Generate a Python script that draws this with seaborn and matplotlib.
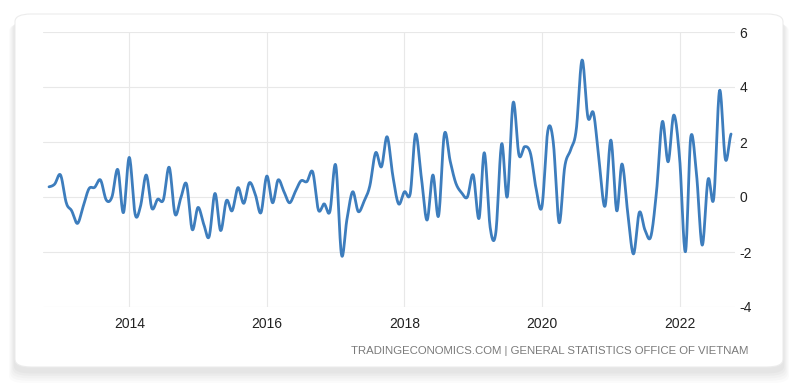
import numpy as np
import pandas as pd
import matplotlib
matplotlib.use("Agg")
import matplotlib.pyplot as plt
from matplotlib import font_manager
from matplotlib.patches import FancyBboxPatch
import seaborn as sns

# monthly values, Nov 2012 .. Oct 2022
START = "2012-11-01"
values = [
    0.37, 0.47, 0.80, -0.22, -0.50, -0.96, -0.35, 0.30, 0.35, 0.62,
    -0.11, 0.00, 1.00, -0.57, 1.44, -0.62, -0.35, 0.80, -0.41, -0.08,
    -0.10, 1.08, -0.62, -0.05, 0.47, -1.18, -0.38, -1.00, -1.44, 0.13,
    -1.22, -0.13, -0.50, 0.34, -0.23, 0.52, 0.10, -0.57, 0.76, -0.21,
    0.62, 0.20, -0.21, 0.20, 0.59, 0.56, 0.91, -0.47, -0.25, -0.53,
    1.16, -2.10, -0.84, 0.19, -0.53, -0.15, 0.40, 1.61, 1.10, 2.19,
    0.74, -0.25, 0.19, 0.13, 2.29, 0.70, -0.84, 0.80, -0.69, 2.29,
    1.30, 0.50, 0.15, 0.00, 0.80, -0.78, 1.61, -1.10, -1.30, 1.93,
    0.01, 3.43, 1.53, 1.83, 1.59, 0.30, -0.35, 2.40, 2.00, -0.93,
    1.10, 1.71, 2.44, 4.98, 2.90, 3.04, 1.20, -0.33, 2.07, -0.50,
    1.20, -0.60, -2.07, -0.56, -1.20, -1.44, 0.25, 2.74, 1.28, 2.98,
    1.40, -1.99, 2.17, 0.80, -1.75, 0.64, -0.05, 3.87, 1.37, 2.29,
]
year_ticks = [2014, 2016, 2018, 2020, 2022]
y_ticks = [-4, -2, 0, 2, 4, 6]
source_text = "TRADINGECONOMICS.COM | GENERAL STATISTICS OFFICE OF VIETNAM"

LINE_COLOR = "#3d7dbd"
GRID_COLOR = "#e8e8e8"


def pick_font():
    names = {f.name for f in font_manager.fontManager.ttflist}
    for name in ["Liberation Sans Narrow", "Liberation Sans", "DejaVu Sans"]:
        if name in names:
            return name
    return "DejaVu Sans"


def spline(dates, vals, steps=16):
    # Catmull-Rom through the monthly points, just for a smooth look
    t = dates.values.astype("datetime64[s]").astype(float)
    y = np.asarray(vals, dtype=float)
    yp = np.concatenate([[y[0]], y, [y[-1]]])
    xs, ys = [], []
    for i in range(len(y) - 1):
        p0, p1, p2, p3 = yp[i], yp[i + 1], yp[i + 2], yp[i + 3]
        s = np.linspace(0, 1, steps, endpoint=False)
        ys.append(0.5 * ((2 * p1) + (-p0 + p2) * s
                         + (2 * p0 - 5 * p1 + 4 * p2 - p3) * s ** 2
                         + (-p0 + 3 * p1 - 3 * p2 + p3) * s ** 3))
        xs.append(t[i] + (t[i + 1] - t[i]) * s)
    xs.append([t[-1]])
    ys.append([y[-1]])
    xs = pd.to_datetime(np.concatenate(xs).astype("int64"), unit="s")
    return xs, np.concatenate(ys)


dates = pd.date_range(START, periods=len(values), freq="MS")
sx, sy = spline(dates, values)
df = pd.DataFrame({"date": sx, "value": sy})

sns.set_theme(style="white")
font = pick_font()
plt.rcParams["font.family"] = [font, "DejaVu Sans"]

fig = plt.figure(figsize=(8, 3.87), dpi=100)
fig.patch.set_facecolor("white")

# card with soft shadow
for k, a in enumerate([0.04, 0.05, 0.05, 0.06, 0.07]):
    grow = (5 - k) * 2.4
    fig.patches.append(FancyBboxPatch(
        ((15 - grow * 0.5) / 800, (387 - 371 - grow) / 387),
        (768 + grow) / 800, (352 + grow * 0.6) / 387,
        boxstyle="round,pad=0,rounding_size=0.02",
        transform=fig.transFigure, facecolor="#9a9a9a", edgecolor="none",
        alpha=a, zorder=0))
fig.patches.append(FancyBboxPatch(
    (15 / 800, (387 - 367) / 387), 768 / 800, 353 / 387,
    boxstyle="round,pad=0,rounding_size=0.02",
    transform=fig.transFigure, facecolor="white", edgecolor="#ececec",
    linewidth=0.8, zorder=1))

ax = fig.add_axes([43 / 800, 1 - 307 / 387, 692 / 800, 275 / 387])
ax.set_facecolor("none")
ax.set_zorder(2)

sns.lineplot(data=df, x="date", y="value", ax=ax, color=LINE_COLOR,
             linewidth=2.0, sort=False)

ax.set_ylim(-4, 6)
ax.set_xlim(pd.Timestamp("2012-09-30"), pd.Timestamp("2022-10-22"))
ax.set_yticks(y_ticks)
ax.set_yticklabels([str(v) for v in y_ticks])
ax.set_xticks([pd.Timestamp(f"{y}-01-01") for y in year_ticks])
ax.set_xticklabels([str(y) for y in year_ticks])
ax.yaxis.tick_right()
ax.tick_params(axis="y", length=0, pad=3, labelsize=10, colors="#222222")
ax.tick_params(axis="x", length=0, pad=7, labelsize=10, colors="#222222")
ax.grid(True, color=GRID_COLOR, linewidth=0.8)
for sp in ax.spines.values():
    sp.set_visible(False)
ax.set_xlabel("")
ax.set_ylabel("")

fig.text(748 / 800, 1 - 351 / 387, source_text, ha="right", va="center",
         fontsize=8.2, color="#7a7a7a", zorder=3)

fig.savefig("out.png", dpi=100)
